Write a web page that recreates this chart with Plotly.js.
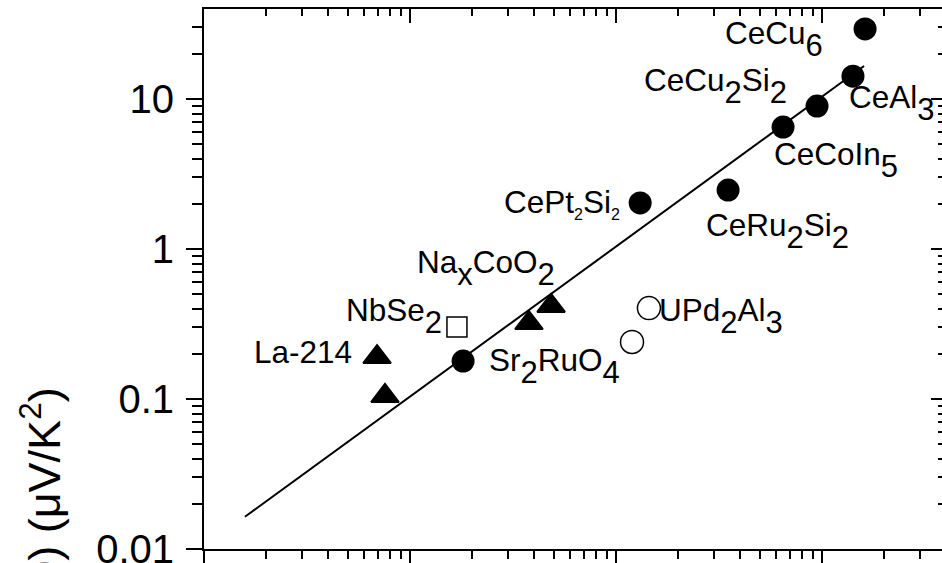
<!DOCTYPE html>
<html><head><meta charset="utf-8">
<script src="https://cdn.plot.ly/plotly-3.0.1.min.js"></script>
<style>html,body{margin:0;padding:0;overflow:hidden;background:#fff}</style>
</head><body><div id="chart"></div>
<script>
// gamma (mJ/mol K^2) and S/T (uV/K^2)
const circleNames = ['CeCu6','CeAl3','CeCu2Si2','CeCoIn5','CeRu2Si2','CePt2Si2','(unlabelled)'];
const circleGamma = [1618, 1413, 946, 647, 350, 131, 18.1];
const circleST    = [29.3, 14.2, 8.98, 6.5, 2.47, 2.03, 0.179];

const triNames = ['La-214','La-214','Sr2RuO4','NaxCoO2'];
const triGamma = [6.92, 7.56, 37.8, 48.4];
const triST    = [0.1905, 0.1047, 0.321, 0.417];

const openCircleNames = ['UPd2Al3','UPd2Al3'];
const openCircleGamma = [144.5, 119.6];
const openCircleST    = [0.404, 0.240];

const squareNames = ['NbSe2'];
const squareGamma = [16.9];
const squareST    = [0.302];

const lineGamma = [1.58, 1600];
const lineST    = [0.0164, 16.6];

const yTickVals = [0.01, 0.1, 1, 10];
const yTickText = ['0.01', '0.1', '1', '10'];
const xTickVals = [1, 10, 100, 1000];

// label texts
const S = (t) => '<sub><span style="font-size:31px;baseline-shift:-5px">' + t + '</span></sub>';
const s = (t) => '<sub><span style="font-size:16px">' + t + '</span></sub>';
const labelTexts = [
  'CeCu' + S('6'),
  'CeCu' + S('2') + 'Si' + S('2'),
  'CeAl' + S('3'),
  'CeCoIn' + S('5'),
  'CeRu' + S('2') + 'Si' + S('2'),
  'CePt' + s('2') + 'Si' + s('2'),
  'Na' + S('x') + 'CoO' + S('2'),
  'NbSe' + S('2'),
  'La-214',
  'Sr' + S('2') + 'RuO' + S('4'),
  'UPd' + S('2') + 'Al' + S('3')
];
// label anchor positions in picture pixels (left, top)
const labelPx = [[723,13],[642,60],[847,77],[772,134],[704,205],[502,182],[415,242],[344,290],[252,332],[487,340],[657,290]];

const L = 204, R = 945, T = 9, B = 549;
const px2x = (p) => (p - L) / (R - L);
const px2y = (p) => (B - p) / (B - T);

const FONT = 'Liberation Sans, Arial, Helvetica, sans-serif';

const annotations = labelTexts.map((t, i) => ({
  text: t, xref: 'paper', yref: 'paper',
  x: px2x(labelPx[i][0]), y: px2y(labelPx[i][1]),
  xanchor: 'left', yanchor: 'top', showarrow: false,
  font: {family: FONT, size: 31.5, color: '#000'}
}));
annotations.push({
  text: 'S/T (T→0) (μV/K<sup>2</sup>)', xref: 'paper', yref: 'paper',
  x: px2x(41), y: px2y(385), xanchor: 'center', yanchor: 'top',
  textangle: -90, showarrow: false,
  font: {family: FONT, size: 45, color: '#000'}
});

const traces = [
  {x: lineGamma, y: lineST, mode: 'lines', line: {color: '#000', width: 2}, hoverinfo: 'skip'},
  {x: circleGamma, y: circleST, text: circleNames, mode: 'markers',
   marker: {symbol: 'circle', size: 23, color: '#000'}},
  {x: triGamma, y: triST, text: triNames, mode: 'markers',
   marker: {symbol: 'triangle-up', size: 24, color: '#000', line: {color: '#000', width: 2}}},
  {x: openCircleGamma, y: openCircleST, text: openCircleNames, mode: 'markers',
   marker: {symbol: 'circle-open', size: 23, color: '#000', line: {width: 1.5}}},
  {x: squareGamma, y: squareST, text: squareNames, mode: 'markers',
   marker: {symbol: 'square-open', size: 20, color: '#000', line: {width: 1.5}}},
  {x: lineGamma, y: lineST, xaxis: 'x2', yaxis: 'y2', mode: 'lines',
   line: {color: 'rgba(0,0,0,0)', width: 0}, hoverinfo: 'skip'}
];

const xr = [0, 3.597], yr = [-2, 1.6];
const common = {type: 'log', showgrid: false, zeroline: false, showline: true,
  linecolor: '#000', linewidth: 2, tickcolor: '#000', tickwidth: 2};

const layout = {
  width: 950, height: 563,
  margin: {l: L, r: 950 - R, t: T, b: 563 - B, pad: 0},
  paper_bgcolor: '#fff', plot_bgcolor: '#fff',
  showlegend: false,
  font: {family: FONT, color: '#000'},
  xaxis: Object.assign({}, common, {range: xr, ticks: 'outside', ticklen: 14,
    tickmode: 'array', tickvals: xTickVals, showticklabels: false,
    minor: {ticks: 'outside', ticklen: 8, tickwidth: 2, tickcolor: '#000', dtick: 'D1', showgrid: false}}),
  yaxis: Object.assign({}, common, {range: yr, ticks: 'outside', ticklen: 16,
    tickmode: 'array', tickvals: yTickVals, ticktext: yTickText, ticklabeloverflow: 'allow',
    tickfont: {family: FONT, size: 40, color: '#000'}, ticklabelstandoff: 4,
    minor: {ticks: 'outside', ticklen: 10, tickwidth: 2, tickcolor: '#000', dtick: 'D1', showgrid: false}}),
  xaxis2: Object.assign({}, common, {range: xr, overlaying: 'x', side: 'top', anchor: 'y2',
    ticks: 'inside', ticklen: 14, tickmode: 'array', tickvals: xTickVals, showticklabels: false,
    minor: {ticks: 'inside', ticklen: 7, tickwidth: 2, tickcolor: '#000', dtick: 'D1', showgrid: false}}),
  yaxis2: Object.assign({}, common, {range: yr, overlaying: 'y', side: 'right', anchor: 'x2',
    ticks: 'inside', ticklen: 14, tickmode: 'array', tickvals: yTickVals, showticklabels: false,
    minor: {ticks: 'inside', ticklen: 7, tickwidth: 2, tickcolor: '#000', dtick: 'D1', showgrid: false}}),
  annotations: annotations
};

Plotly.newPlot('chart', traces, layout, {staticPlot: true});
</script>
</body></html>
